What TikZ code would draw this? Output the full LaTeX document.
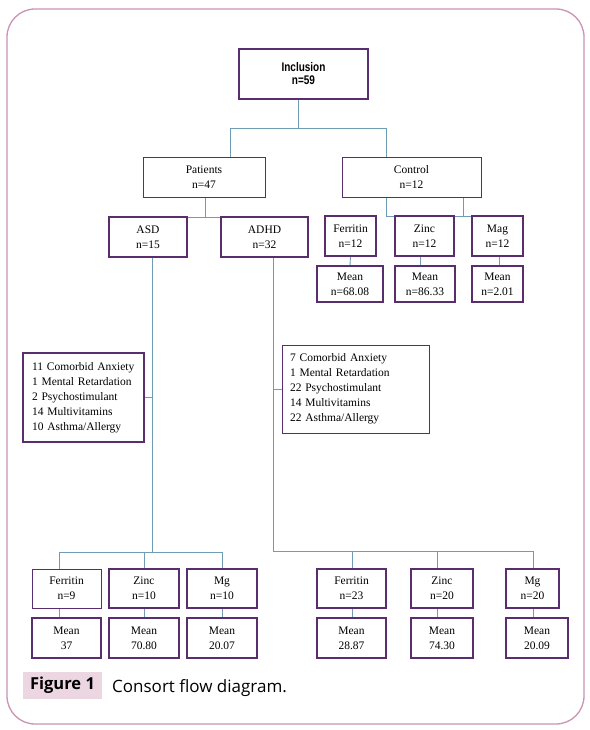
\documentclass[tikz,border=0pt]{standalone}
\usepackage{fontspec}
\setmainfont{Liberation Serif}
\newfontfamily\inclfont{Liberation Sans}
\newfontfamily\capfont{Open Sans}
\definecolor{boxc}{HTML}{5A2D6E}
\definecolor{linec}{HTML}{6F9DB3}
\definecolor{framec}{HTML}{C995B2}
\definecolor{capbg}{HTML}{EBD6E1}
\pgfdeclarelayer{bg}
\pgfsetlayers{bg,main}
\begin{document}
\begin{tikzpicture}[x=1pt,y=-1pt,
  bx/.style={draw=boxc,line width=2pt,align=center,inner sep=0pt,outer sep=0pt,
             font=\fontsize{11.5}{15}\selectfont},
  bxthin/.style={bx,line width=1pt},
  ln/.style={draw=linec,line width=0.9pt}]
\useasboundingbox (0,0) rectangle (589,730);

% top
\node[bx,minimum width=129pt,minimum height=50pt,font=\inclfont\bfseries\fontsize{12.5}{13}\selectfont]
  (incl) at (303.5,74) {\scalebox{0.8}[1]{Inclusion}\\\scalebox{0.8}[1]{n=59}};
\node[bxthin,minimum width=122pt,minimum height=39pt] (pat) at (204,177.5) {Patients\\n=47};
\node[bxthin,minimum width=139pt,minimum height=39pt] (ctl) at (411.5,177.5) {Control\\n=12};

\node[bx,minimum width=78pt,minimum height=40pt] (asd) at (148,237) {ASD\\n=15};
\node[bx,minimum width=87pt,minimum height=40pt] (adhd) at (264.5,237) {ADHD\\n=32};

\node[bx,minimum width=51pt,minimum height=40pt] (cf) at (350.5,236) {Ferritin\\n=12};
\node[bx,minimum width=59pt,minimum height=40pt] (cz) at (424.5,236) {Zinc\\n=12};
\node[bx,minimum width=51pt,minimum height=40pt] (cm) at (497.5,236) {Mag\\n=12};
\node[bx,minimum width=66pt,minimum height=36pt] (cfm) at (350,284) {Mean\\n=68.08};
\node[bx,minimum width=60pt,minimum height=36pt] (czm) at (425,284) {Mean\\n=86.33};
\node[bx,minimum width=51pt,minimum height=36pt] (cmm) at (497.5,284) {Mean\\n=2.01};

% comorbidity boxes
\node[bx,align=left,inner xsep=9pt,text width=103pt,minimum height=89pt] (lcom) at (83.5,397.5)
  {11 Comorbid Anxiety\\1 Mental Retardation\\2 Psychostimulant\\14 Multivitamins\\10 Asthma/Allergy};
\node[bxthin,align=left,inner xsep=8pt,text width=131pt,minimum height=88pt] (rcom) at (355.5,389)
  {7 Comorbid Anxiety\\1 Mental Retardation\\22 Psychostimulant\\14 Multivitamins\\22 Asthma/Allergy};

% bottom row
\node[bxthin,minimum width=69pt,minimum height=39pt] (af) at (66.5,588.5) {Ferritin\\n=9};
\node[bx,minimum width=70pt,minimum height=39pt] (az) at (144,588.5) {Zinc\\n=10};
\node[bx,minimum width=70pt,minimum height=39pt] (am) at (222,588.5) {Mg\\n=10};
\node[bx,minimum width=69pt,minimum height=39pt] (df) at (351.5,588.5) {Ferritin\\n=23};
\node[bx,minimum width=62pt,minimum height=39pt] (dz) at (442,588.5) {Zinc\\n=20};
\node[bx,minimum width=53pt,minimum height=39pt] (dm) at (532.5,588.5) {Mg\\n=20};

\node[bx,minimum width=69pt,minimum height=40pt] (afm) at (66.5,638) {Mean\\37};
\node[bx,minimum width=70pt,minimum height=40pt] (azm) at (144,638) {Mean\\70.80};
\node[bx,minimum width=70pt,minimum height=40pt] (amm) at (222,638) {Mean\\20.07};
\node[bx,minimum width=69pt,minimum height=40pt] (dfm) at (351.5,638) {Mean\\28.87};
\node[bx,minimum width=62pt,minimum height=40pt] (dzm) at (442,638) {Mean\\74.30};
\node[bx,minimum width=62pt,minimum height=40pt] (dmm) at (537,638) {Mean\\20.09};

% caption
\node[fill=capbg,minimum width=79pt,minimum height=27pt,inner sep=0pt,
      font=\capfont\bfseries\fontsize{16.5}{18}\selectfont] (figlab) at (62.5,685.5) {Figure 1};
\node[anchor=base west,inner sep=0pt,font=\capfont\fontsize{17}{19}\selectfont]
  (figtxt) at (112,692) {Consort flow diagram.};

% junction coordinates
\coordinate (j1) at (298,128);
\coordinate (j1l) at (230,128);
\coordinate (j1r) at (386,128);
\coordinate (p1) at (205,217);
\coordinate (c1) at (386,216);
\coordinate (c2) at (463,216);
\coordinate (czx) at (420,256);
\coordinate (cmx) at (499,256);
\coordinate (av) at (152,552);
\coordinate (afx) at (59,552);
\coordinate (dv) at (273,551);
\coordinate (dfx) at (352,551);
\coordinate (dzx) at (437,551);
\coordinate (dmx) at (533,551);

\begin{pgfonlayer}{bg}
\fill[white] (0,0) rectangle (589,730);
\draw[framec,line width=1.3pt,rounded corners=28pt] (7,9) rectangle (584,724);
% top tree
\draw[ln] (incl.south -| j1) -- (j1);
\draw[ln] (j1l) -- (j1r);
\draw[ln] (j1l) -- (j1l |- pat.north);
\draw[ln] (j1r) -- (j1r |- ctl.north);
\draw[ln] (pat.south -| p1) -- (p1);
\draw[ln] (asd.north east) -- (adhd.north west);
\draw[ln] (ctl.south -| c1) -- (c1) -- (cm.north west);
\draw[ln] (ctl.south -| c2) -- (c2);
\draw[ln] (cf.south) -- (cfm.north);
\draw[ln] (czx) -- (czx |- czm.north);
\draw[ln] (cmx) -- (cmx |- cmm.north);
% ASD branch
\draw[ln] (asd.south -| av) -- (av);
\draw[ln] (lcom.east) -- (lcom.east -| av);
\draw[ln] (afx) -- (am.north |- av);
\draw[ln] (afx) -- (afx |- af.north);
\draw[ln] (afx |- af.south) -- (afx |- afm.north);
\draw[ln] (az.north |- av) -- (az.north);
\draw[ln] (am.north |- av) -- (am.north);
\draw[ln] (az.south) -- (azm.north);
\draw[ln] (am.south) -- (amm.north);
% ADHD branch
\draw[ln] (adhd.south -| dv) -- (dv) -- (dmx);
\draw[ln] (rcom.west) -- (rcom.west -| dv);
\draw[ln] (dfx) -- (dfx |- df.north);
\draw[ln] (dzx) -- (dzx |- dz.north);
\draw[ln] (dmx) -- (dmx |- dm.north);
\draw[ln] (dfx |- df.south) -- (dfx |- dfm.north);
\draw[ln] (dzx |- dz.south) -- (dzx |- dzm.north);
\draw[ln] (dmx |- dm.south) -- (dmx |- dmm.north);
\end{pgfonlayer}
\end{tikzpicture}
\end{document}
